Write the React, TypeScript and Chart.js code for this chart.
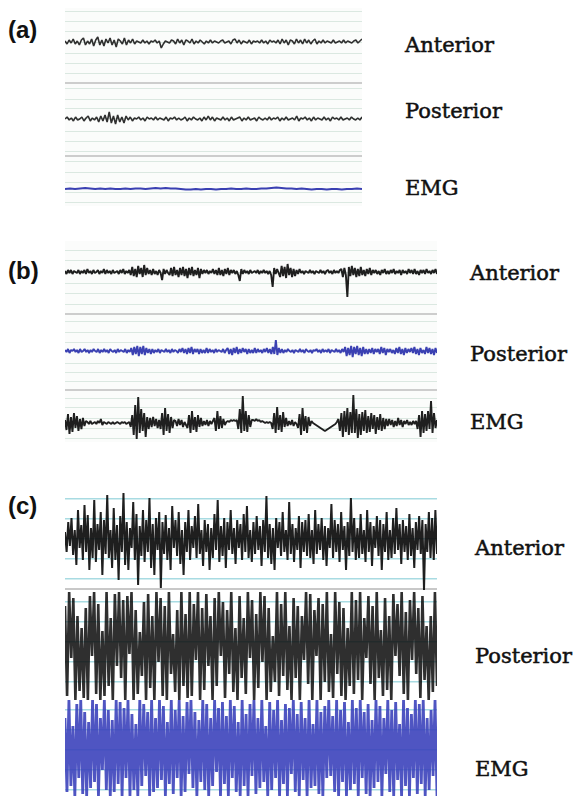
import React, { useEffect, useRef } from "react";
import { Chart, registerables } from "chart.js";
Chart.register(...registerables);

// ---------- Panel (a): resting signals ----------
const aAnterior = [1,-2,2,-1,3,-2,1,-3,2,4,-3,1,-2,3,-4,2,5,-3,2,-4,3,-1,4,-3,2,-5,3,1,-2,4,-3,2,-1,3,-2,1,0,-1,
2,-1,1,-2,1,0,2,-1,1,-6,-2,1,0,-1,2,1,-2,3,-1,2,-3,2,1,-1,3,-2,1,-1,2,0,-2,1,-1,2,-1,1,0,-1,1,2,
-1,0,1,-2,2,3,-1,2,-2,1,0,-1,2,-2,1,0,1,-1,2,-1,1,-2,2,0,1,-1,2,-2,3,-1,2,-3,2,1,-2,3,-1,2,-2,3,
-1,2,-2,1,3,-2,1,-1,2,-1,1,0,-1,2,-1,0,1,-1,2,-1,1,0,-1,1,2,-1,1,3];
const aPosterior = [0,2,-1,1,-2,2,-1,0,2,-2,1,3,-2,1,-1,2,-3,3,-2,4,-3,7,-4,3,-5,4,-3,2,-4,3,-1,2,-2,1,0,2,-1,1,
-2,2,0,1,-1,2,-1,1,0,-1,2,-2,1,0,2,-1,1,-1,0,2,-2,1,-1,2,0,-1,1,-2,2,-1,3,-1,2,-2,1,0,-1,2,-1,
1,-2,2,-1,0,1,2,-2,1,-1,2,-1,0,1,-2,2,0,-1,1,-1,2,-1,1,0,2,-2,1,-1,2,-1,0,1,-1,3,-2,1,0,2,-1,
1,-2,2,-1,1,0,-1,2,-1,1,-2,2,0,1,-1,2,-1,0,1,-1,2,0,-1,1,-1,2];
const aEMG = [0,0.5,0,0.5,1,0.5,0,0.5,0,0.5,0,0,0.5,0,0.5,0.5,0,0.5,1,0.5,1,0.5,0.5,0,-0.5,-0.5,0,-0.5,0,0,-0.5,0,0,0.5,0,0,0.5,0,0,0.5,0.5,1,1.5,1,0.5,0.5,0,0.5,0,-0.5,0,0,-0.5,0,0,-0.5,0,0,0.5,0];

// ---------- Panel (b) ----------
const bAnterior = [1,-2,2,-1,2,-2,1,0,-1,2,-2,1,-1,2,-2,3,-1,1,-2,2,-1,0,2,-2,1,-1,3,-2,2,-1,1,-2,2,-1,0,1,-2,2,-1,3,-2,1,-1,2,
-3,5,-4,3,-5,6,-2,4,-5,7,-3,4,-2,
2,-3,3,-2,1,-3,2,-1,-8,3,-2,2,-1,
-3,4,-4,5,-3,2,-5,4,-3,5,-4,3,-6,4,-3,5,-4,2,-3,4,-6,3,-2,2,
-1,2,-2,1,-1,3,-2,2,-3,4,-3,2,-4,3,-2,4,-3,2,-1,2,-2,1,
-3,-9,3,-2,2,
-1,1,-2,2,-1,0,1,-1,2,-2,1,-1,2,-1,1,-2,1,
-3,-15,4,-2,3,-1,
-5,6,-4,5,-6,8,-3,4,-5,3,-4,2,-2,3,
-1,1,-2,1,0,-1,2,-1,1,-2,1,0,-1,2,-1,1,-2,1,2,-1,1,-2,2,-1,1,-1,2,
3,-5,4,-3,-25,5,-4,6,-3,4,-5,3,-4,5,-3,2,-4,
3,-2,4,-3,2,-1,2,-2,1,-3,2,-1,3,-2,1,-2,2,-1,3,-2,1,-1,2,-3,2,-1,1,-2,3,-1,2,-2,3,-2,1,-3,2,-1,2,-2,3,-1,1,-2,2,-1,3,-2];
const bPosterior = [1,-1,2,-2,1,0,2,-1,1,-2,2,-1,0,2,-1,1,-2,1,-1,2,0,-1,2,-2,1,-1,2,-1,1,-2,2,0,-1,1,-2,2,-1,1,0,-1,2,-2,1,-1,
3,-4,4,-3,5,-5,4,-3,5,-4,3,-2,2,-3,
2,-2,1,-1,2,-2,1,0,-1,2,-1,1,-2,2,-1,1,0,-2,2,-1,3,-2,2,-3,3,-2,4,-3,2,-1,2,-3,2,-2,1,-2,3,-2,2,-1,1,-2,2,-1,1,0,-1,2,-2,1,
3,-3,2,-4,3,-2,4,-3,2,-2,3,-1,2,-3,2,-2,1,-2,3,-2,2,-1,1,-2,2,-1,3,-2,2,-3,
4,-3,11,-4,3,-2,
2,-2,1,-1,2,0,-1,1,-2,1,0,-1,2,-1,1,-2,2,0,-1,1,-2,1,0,2,-1,1,-2,2,-1,1,-1,2,-2,1,0,-1,2,-1,1,-2,2,-1,
4,-5,3,-4,5,-6,4,-3,5,-4,3,-5,4,-3,2,-3,2,
-2,3,-3,2,-1,2,-3,4,-2,3,-4,2,-1,2,-2,1,-3,3,-2,4,-3,2,-4,3,-2,2,-1,3,-2,4,-3,2,-4,3,-2,1,-3,4,-2,3,-3,2,-4,3,-2];
const bEMG = [3,-7,9,-11,6,-9,10,-5,7,-8,4,-6,5,-3,2,
1,-1,2,-1,0,1,-1,2,0,4,-2,1,0,-1,1,0,-1,1,-1,0,1,0,-1,1,0,1,-1,0,1,
-4,8,-12,18,-16,26,-10,14,-8,10,-14,6,
-6,5,-4,6,-3,4,-5,3,
-6,10,-12,15,-8,9,-10,6,-5,3,
2,-3,4,-2,3,-4,1,-2,
-5,8,-10,12,-7,6,-9,8,-4,5,-3,2,
-2,3,-3,2,-1,2,
5,-8,12,-6,7,-5,4,-2,
1,2,1,3,2,3,2,3,
-6,14,-10,27,-8,12,-9,8,-4,3,
3,2,4,2,3,1,2,1,0,1,0,1,0,
-6,10,-10,16,-7,8,-9,11,-4,5,-3,
2,-2,3,-3,1,-1,
-5,9,-12,15,-8,7,-10,6,-3,2,
0,-1,-2,-3,-4,-5,-6,-7,-8,-7,-6,-5,-4,-3,-2,-1,1,
4,-8,10,-14,12,-9,15,-12,11,-10,28,-10,14,-15,9,-12,11,-8,13,-10,7,-9,10,-6,8,-11,6,-7,9,-8,5,-6,4,
-3,4,-2,3,-4,2,-3,5,-2,3,-4,2,-1,3,-2,1,-2,2,-1,2,
-6,8,-14,12,-10,9,-8,12,-6,22,-10,10,-5,3];

// ---------- Panel (c) ----------
const cAnterior = [8,-12,18,-6,22,-15,10,-25,30,-8,15,-20,35,-12,25,-30,12,-18,40,-22,16,-10,28,-35,20,-14,45,-18,10,-28,
32,-20,15,-40,24,-12,47,-25,18,-30,12,-8,38,-20,26,-45,14,-16,30,-22,20,-12,42,-28,16,-35,22,-10,28,-48,
18,-14,25,-20,12,-30,34,-8,20,-16,28,-24,10,-35,18,-12,30,-20,14,-8,24,-18,36,-14,10,-26,20,-12,16,-30,
12,-18,26,-10,40,-22,14,-16,22,-28,18,-10,30,-14,12,-24,20,-8,16,-20,26,-12,34,-18,10,-22,18,-14,24,-10,
14,-26,20,-12,44,-18,16,-24,12,-30,22,-8,18,-16,28,-12,10,-20,38,-14,16,-22,12,-10,24,-28,18,-12,20,-16,
26,-18,10,-24,30,-14,16,-10,22,-20,14,-26,12,-8,36,-18,20,-12,16,-22,28,-10,14,-30,18,-16,42,-12,22,-20,
12,-18,26,-14,10,-22,30,-12,18,-26,14,-8,24,-16,20,-30,16,-12,28,-20,10,-18,22,-14,32,-10,16,-24,20,-12,
14,-20,26,-16,12,-28,18,-10,24,-14,20,-50,16,-12,28,-18,22,-20,30,-14];
const cPosterior = [40,-50,54,-12,48,-54,30,-45,18,-52,38,-54,50,-10,54,-48,42,-54,15,-50,54,-40,28,-54,52,-20,54,-32,46,-54,
50,-8,54,-54,36,-48,14,-30,44,-54,52,-42,30,-54,54,-16,48,-50,40,-54,54,-28,12,-46,36,-54,54,-40,32,-52,
54,-50,42,-14,54,-54,38,-44,52,-20,30,-54,48,-40,54,-10,44,-52,36,-28,54,-46,18,-54,50,-32,28,-48,54,-12,
46,-54,32,-42,54,-16,50,-54,38,-46,10,-36,54,-50,42,-30,54,-44,20,-54,48,-32,40,-54,30,-14,54,-38,52,-54,
36,-10,48,-54,42,-36,54,-46,12,-52,54,-28,44,-50,38,-54,18,-40,54,-48,46,-34,54,-54,28,-12,50,-38,40,-54,
54,-32,16,-50,48,-44,30,-54,52,-10,42,-30,54,-48,34,-54,46,-14,54,-28,38,-52,50,-34,20,-54,30,-46,54,-40];
const cEMG = [30,-44,48,-38,22,-48,44,-30,48,-46,36,-48,26,-40,48,-34,44,-48,30,-22,48,-42,38,-48,28,-44,48,-36,46,-48,
40,-30,48,-48,34,-42,24,-48,48,-38,44,-28,36,-48,48,-44,30,-40,48,-32,42,-48,26,-36,48,-46,38,-30,48,-48,
32,-44,46,-26,48,-40,36,-48,28,-34,48,-42,44,-48,30,-38,48,-24,40,-48,46,-36,32,-48,48,-30,42,-44,26,-48,
48,-38,34,-48,44,-28,48,-46,30,-40,48,-34,22,-48,46,-42,38,-30,48,-48,28,-36,44,-48,40,-26,48,-44,34,-48,
46,-32,30,-48,48,-40,24,-38,48,-46,36,-48,42,-30,48,-28,32,-44,48,-48,38,-34,46,-48,26,-42,48,-36,40,-48,
48,-30,36,-46,44,-48,28,-40,48,-34,42,-48,30,-26,48,-44,38,-48,46,-32,24,-48,48,-38,40,-48,34,-30,48,-46,
44,-36,48,-48,30,-42,38,-28,48,-48];

// Grid levels (panel units, measured from panel top) and channel baselines
const aGrid = [3,13,23,34,45,55,65,75,80,91,101,111,123,133,143,148,153,164,174,184,194];
const aSeparators = [75,148];
const aBaselines = [34,111,181];
const bGrid = [9,19,31,42,52,63,73,80,91,101,110,122,131,140,149,157,166,177,187,197];
const bSeparators = [73,149];
const bBaselines = [31,110,182];
const cGrid = [12,32,52,72,92,102,115,135,155,175,195,223,243,263,283,303];
const cSeparators = [102];
const cBaselines = [53,159,261];

const channelNames = ["Anterior", "Posterior", "EMG"];
const panelLetters = ["(a)", "(b)", "(c)"];

const BLACK = "rgba(12,12,12,0.92)";
const GREY = "rgba(25,25,25,0.9)";
const BLUE = "#3a40b2";

type Trace = { values: number[]; base: number; color: string; width: number };

function Panel(props: {
  left: number; top: number; width: number; height: number;
  traces: Trace[]; grid: number[]; separators: number[];
  gridColor: string; sepColor: string; bg: string; gridWidth: number;
}) {
  const ref = useRef<HTMLCanvasElement | null>(null);
  useEffect(() => {
    const { traces, grid, separators, gridColor, sepColor, bg, gridWidth, height } = props;
    const chart = new Chart(ref.current as HTMLCanvasElement, {
      type: "line",
      data: {
        datasets: traces.map((t) => ({
          data: t.values.map((v, i) => ({ x: i / (t.values.length - 1), y: t.base - v })),
          borderColor: t.color,
          borderWidth: t.width,
          pointRadius: 0,
          tension: 0,
          fill: false,
          borderJoinStyle: "bevel" as const,
        })),
      },
      options: {
        animation: false,
        responsive: false,
        maintainAspectRatio: false,
        events: [],
        layout: { padding: 0 },
        plugins: { legend: { display: false }, tooltip: { enabled: false } },
        scales: {
          x: { type: "linear", min: 0, max: 1, display: false },
          y: {
            type: "linear", min: 0, max: height, reverse: true, display: true,
            afterBuildTicks: (s: any) => { s.ticks = grid.map((v) => ({ value: v })); },
            ticks: { display: false },
            grid: {
              drawTicks: false,
              color: (c: any) => (separators.includes(c.tick?.value) ? sepColor : gridColor),
              lineWidth: (c: any) => (separators.includes(c.tick?.value) ? 2 : gridWidth),
            },
            border: { display: false },
          },
        },
      },
      plugins: [{
        id: "bg",
        beforeDraw(ch: any) {
          const { ctx, chartArea: a } = ch;
          ctx.save();
          ctx.fillStyle = bg;
          ctx.fillRect(a.left, a.top, a.right - a.left, a.bottom - a.top);
          ctx.restore();
        },
      }],
    });
    return () => chart.destroy();
  }, []);
  return (
    <canvas ref={ref} width={props.width} height={props.height}
      style={{ position: "absolute", left: props.left, top: props.top, width: props.width, height: props.height }} />
  );
}

const labelStyle = (left: number, cy: number): React.CSSProperties => ({
  position: "absolute", left, top: cy - 14, lineHeight: "28px", height: 28,
  fontFamily: "'DejaVu Serif', serif", fontSize: 21, color: "#111", whiteSpace: "nowrap",
  WebkitTextStroke: "0.5px #111",
});
const letterStyle = (cy: number): React.CSSProperties => ({
  position: "absolute", left: 8, top: cy - 15, lineHeight: "30px",
  fontFamily: "'Liberation Sans', Arial, sans-serif", fontWeight: "bold", fontSize: 24, color: "#111",
});

export default function App() {
  return (
    <div style={{ position: "absolute", left: 0, top: 0, width: 577, height: 796, background: "#fff", overflow: "hidden" }}>
      <div style={letterStyle(30)}>{panelLetters[0]}</div>
      <div style={letterStyle(271)}>{panelLetters[1]}</div>
      <div style={letterStyle(506)}>{panelLetters[2]}</div>

      <Panel left={65} top={8} width={297} height={198}
        traces={[
          { values: aAnterior, base: aBaselines[0], color: GREY, width: 1.6 },
          { values: aPosterior, base: aBaselines[1], color: GREY, width: 1.6 },
          { values: aEMG, base: aBaselines[2], color: BLUE, width: 2 },
        ]}
        grid={aGrid} separators={aSeparators}
        gridColor="#dbe8e1" sepColor="#cdcdcd" bg="#fbfcfb" gridWidth={1} />
      <div style={labelStyle(405, 45)}>{channelNames[0]}</div>
      <div style={labelStyle(405, 111)}>{channelNames[1]}</div>
      <div style={labelStyle(405, 188)}>{channelNames[2]}</div>

      <Panel left={65} top={241} width={372} height={201}
        traces={[
          { values: bAnterior, base: bBaselines[0], color: BLACK, width: 1.9 },
          { values: bPosterior, base: bBaselines[1], color: BLUE, width: 1.9 },
          { values: bEMG, base: bBaselines[2], color: BLACK, width: 1.9 },
        ]}
        grid={bGrid} separators={bSeparators}
        gridColor="#dbe8e1" sepColor="#cdcdcd" bg="#fbfcfb" gridWidth={1} />
      <div style={labelStyle(470, 273)}>{channelNames[0]}</div>
      <div style={labelStyle(470, 354)}>{channelNames[1]}</div>
      <div style={labelStyle(470, 422)}>{channelNames[2]}</div>

      <Panel left={65} top={487} width={372} height={309}
        traces={[
          { values: cAnterior, base: cBaselines[0], color: BLACK, width: 2 },
          { values: cPosterior, base: cBaselines[1], color: "rgba(10,10,10,0.85)", width: 2.6 },
          { values: cEMG, base: cBaselines[2], color: "rgba(55,62,185,0.88)", width: 2.8 },
        ]}
        grid={cGrid} separators={cSeparators}
        gridColor="#a8dbe2" sepColor="#c8c8c8" bg="#ffffff" gridWidth={1.5} />
      <div style={labelStyle(475, 548)}>{channelNames[0]}</div>
      <div style={labelStyle(475, 656)}>{channelNames[1]}</div>
      <div style={labelStyle(475, 769)}>{channelNames[2]}</div>
    </div>
  );
}
